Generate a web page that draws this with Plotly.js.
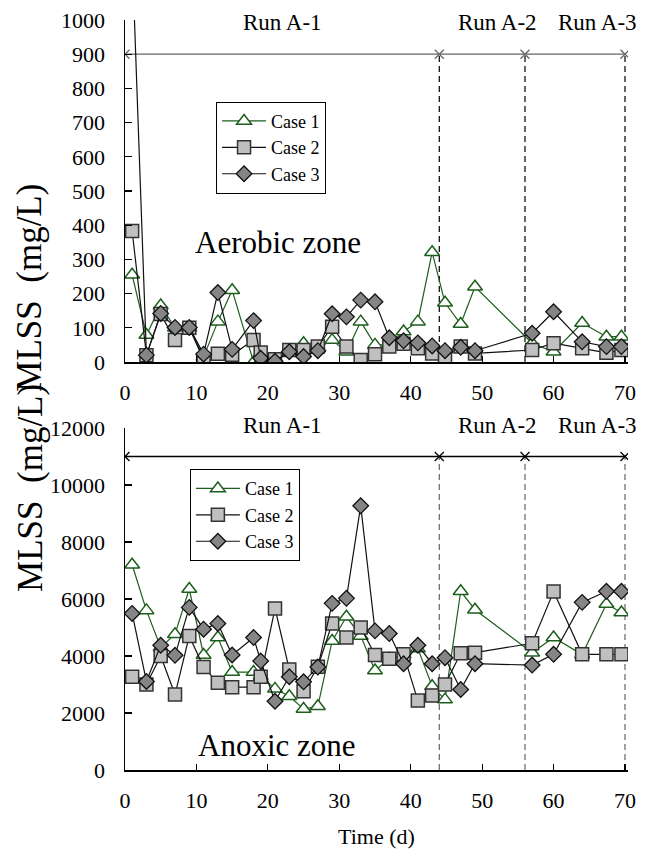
<!DOCTYPE html>
<html><head><meta charset="utf-8">
<script src="https://cdn.plot.ly/plotly-3.0.1.min.js"></script>
<style>html,body{margin:0;padding:0;background:#fff}#chart{width:659px;height:857px}</style>
</head><body><div id="chart"></div>
<script>
// Sampling days (d)
const days = [1,3,5,7,9,11,13,15,18,19,21,23,25,27,29,31,33,35,37,39,41,43,44.8,47,49,57,60,64,67.4,69.5];

// Aerobic zone MLSS (mg/L)
const aerobicCase1 = [255,79,165,100,100,15,118,210,0,5,5,30,55,40,64,30,118,50,50,89,118,321,173,111,220,55,30,114,74,74];
const aerobicCase2 = [383,20,140,64,100,7,24,21,64,28,8,35,35,45,103,45,6,23,45,53,40,25,11,45,25,35,55,40,27,35];
const aerobicCase3 = [1190,20,142,101,101,23,203,37,121,11,2,30,16,33,141,132,181,176,71,62,56,47,33,43,33,84,147,59,45,45];

// Anoxic zone MLSS (mg/L)
const anoxicCase1 = [7200,5600,4300,4765,6350,4035,4647,3435,3435,3300,2847,2588,2141,2235,4529,5376,4706,3494,3900,4050,4259,2941,2470,6271,5623,4117,4647,4050,5823,5529];
const anoxicCase2 = [3271,3000,4000,2647,4706,3612,3059,2906,2906,3271,5670,3529,2765,3623,5141,4647,5000,4035,3905,4059,2435,2612,3000,4094,4117,4447,6259,4059,4059,4059];
const anoxicCase3 = [5494,3106,4376,4024,5706,4941,5141,4035,4647,3823,2412,3271,3094,3612,5847,6023,9270,4882,4788,3729,4376,3729,3941,2824,3729,3682,4059,5882,6270,6270];

// Run periods
const runBounds = [0,44,56,70];
const runLabels = ['Run A-1','Run A-2','Run A-3'];
const runLabelDay = [22.1,52.2,66.1];
const aerobicRunLevel = 900;
const anoxicRunLevel = 11000;

const caseNames = ['Case 1','Case 2','Case 3'];
const xTicks = [0,10,20,30,40,50,60,70];

const FONT = 'Liberation Serif';
const green = '#1d5e1d';

const styles = [
  {line:{color:green,width:1.2}, marker:{symbol:'triangle-up',size:13,color:'#ffffff',line:{color:green,width:1.5}}},
  {line:{color:'#111',width:1.2}, marker:{symbol:'square',size:13,color:'#c0c0c0',line:{color:'#333',width:1.5}}},
  {line:{color:'#111',width:1.2}, marker:{symbol:'diamond',size:12,color:'#858585',line:{color:'#111',width:1.3}}}
];

function caseTrace(i, y, xa, ya, legend){
  return {x:days, y:y, name:caseNames[i], xaxis:xa, yaxis:ya, legend:legend,
    type:'scatter', mode:'lines+markers', line:styles[i].line, marker:styles[i].marker, hoverinfo:'x+y'};
}

function runTraces(level, xa, ya, hColor, vColor){
  const vx = [], vy = [];
  runBounds.slice(1).forEach(b => { vx.push(b,b,null); vy.push(0,level,null); });
  return [
    {x:vx, y:vy, xaxis:xa, yaxis:ya, mode:'lines', showlegend:false, hoverinfo:'skip',
     line:{color:vColor,width:1.2,dash:'6px,4px'}},
    {x:runBounds, y:runBounds.map(()=>level), xaxis:xa, yaxis:ya, mode:'lines+markers', showlegend:false, hoverinfo:'skip',
     line:{color:hColor,width:1.3}, marker:{symbol:'x-thin-open',size:9,line:{color:'#000',width:1.3}}}
  ];
}

const data = [
  ...runTraces(aerobicRunLevel,'x','y','#666','#000'),
  caseTrace(0,aerobicCase1,'x','y','legend'),
  caseTrace(1,aerobicCase2,'x','y','legend'),
  caseTrace(2,aerobicCase3,'x','y','legend'),
  ...runTraces(anoxicRunLevel,'x2','y2','#000','#666'),
  caseTrace(0,anoxicCase1,'x2','y2','legend2'),
  caseTrace(1,anoxicCase2,'x2','y2','legend2'),
  caseTrace(2,anoxicCase3,'x2','y2','legend2')
];

const axBase = {showline:true, linecolor:'#000', linewidth:1.5, showgrid:false, zeroline:false,
  ticks:'inside', tickcolor:'#000', tickwidth:1.2, tickformat:'d',
  tickfont:{family:FONT,size:22,color:'#000'}};

const annotations = [];
runLabels.forEach((t,i)=>{
  annotations.push({x:runLabelDay[i], y:0.997, xref:'x', yref:'paper', text:t, showarrow:false,
    xanchor:'center', yanchor:'middle', font:{family:FONT,size:23,color:'#000'}});
  annotations.push({x:runLabelDay[i], y:0.46, xref:'x2', yref:'paper', text:t, showarrow:false,
    xanchor:'center', yanchor:'middle', font:{family:FONT,size:23,color:'#000'}});
});
annotations.push({x:-0.189, y:0.643, xref:'paper', yref:'paper', text:'MLSS  (mg/L)', textangle:-90, showarrow:false,
  xanchor:'center', yanchor:'middle', font:{family:FONT,size:35,color:'#000'}});
annotations.push({x:-0.189, y:0.376, xref:'paper', yref:'paper', text:'MLSS  (mg/L)', textangle:-90, showarrow:false,
  xanchor:'center', yanchor:'middle', font:{family:FONT,size:35,color:'#000'}});
annotations.push({x:0.304, y:0.704, xref:'paper', yref:'paper', text:'Aerobic zone', showarrow:false,
  xanchor:'center', yanchor:'middle', font:{family:FONT,size:31,color:'#000'}});
annotations.push({x:0.302, y:0.033, xref:'paper', yref:'paper', text:'Anoxic zone', showarrow:false,
  xanchor:'center', yanchor:'middle', font:{family:FONT,size:31,color:'#000'}});

const legendBase = {font:{family:FONT,size:18,color:'#000'}, bgcolor:'#fff', bordercolor:'#000', borderwidth:1,
  xanchor:'left', yanchor:'top', xref:'paper', yref:'paper', tracegroupgap:0, itemwidth:44};

const layout = {
  width:659, height:857, paper_bgcolor:'#fff', plot_bgcolor:'rgba(0,0,0,0)',
  margin:{l:125, r:31, t:20, b:87},
  font:{family:FONT,color:'#000'},
  xaxis:Object.assign({}, axBase, {domain:[0,1], anchor:'y', range:[0,70.42], tickvals:xTicks, ticklen:6, ticklabelstandoff:10}),
  yaxis:Object.assign({}, axBase, {domain:[0.544,1], anchor:'x', range:[0,1000], dtick:100, tick0:0, ticklen:7, ticklabelstandoff:14}),
  xaxis2:Object.assign({}, axBase, {domain:[0,1], anchor:'y2', range:[0,70.42], tickvals:xTicks, ticklen:6, ticklabelstandoff:10,
    title:{text:'Time (d)', font:{family:FONT,size:22,color:'#000'}, standoff:16}}),
  yaxis2:Object.assign({}, axBase, {domain:[0,0.456], anchor:'x2', range:[0,12000], dtick:2000, tick0:0, ticklen:7, ticklabelstandoff:14}),
  legend:Object.assign({}, legendBase, {x:0.181, y:0.891}),
  legend2:Object.assign({}, legendBase, {x:0.129, y:0.401}),
  annotations:annotations,
  showlegend:true
};

Plotly.newPlot('chart', data, layout, {displayModeBar:false, staticPlot:true});
</script>
</body></html>
